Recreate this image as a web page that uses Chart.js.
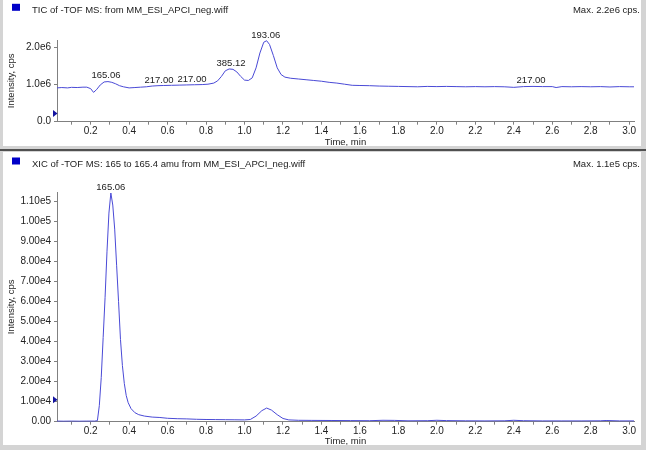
<!DOCTYPE html>
<html>
<head>
<meta charset="utf-8">
<script src="https://cdn.jsdelivr.net/npm/chart.js@4.4.1/dist/chart.umd.min.js"></script>
<style>
  html, body { margin: 0; padding: 0; }
  body { width: 646px; height: 450px; background: #d4d4d4; position: relative; overflow: hidden; }
  .panel { position: absolute; left: 3px; width: 638px; background: #fff; }
  .panel canvas { display: block; }
  #sep { position: absolute; left: 0; top: 149px; width: 646px; height: 2px; background: #505050; }
</style>
</head>
<body>
<div class="panel" style="top:0;height:146px"><canvas id="tic" width="638" height="146"></canvas></div>
<div id="sep"></div>
<div class="panel" style="top:152px;height:293px"><canvas id="xic" width="638" height="293"></canvas></div>
<script>
// --- data ---
var ticTime = [0.025, 0.05, 0.08, 0.10, 0.13, 0.16, 0.18, 0.20, 0.215, 0.23, 0.25, 0.27, 0.29, 0.31, 0.33, 0.35, 0.37, 0.40,
  0.43, 0.46, 0.49, 0.52, 0.55, 0.58, 0.62, 0.66, 0.70, 0.74, 0.78, 0.81, 0.84, 0.86, 0.88, 0.90, 0.92, 0.94, 0.96, 0.98,
  1.00, 1.02, 1.04, 1.06, 1.08, 1.10, 1.115, 1.13, 1.15, 1.17, 1.19, 1.21, 1.24, 1.28, 1.32, 1.36, 1.40, 1.44, 1.48, 1.52,
  1.56, 1.60, 1.65, 1.70, 1.75, 1.80, 1.85, 1.90, 1.95, 2.00, 2.05, 2.10, 2.15, 2.20, 2.25, 2.30, 2.35, 2.40, 2.45, 2.50,
  2.55, 2.60, 2.62, 2.65, 2.70, 2.75, 2.80, 2.85, 2.90, 2.95, 3.00, 3.025];
var ticIntensity = [0.91e6, 0.92e6, 0.91e6, 0.925e6, 0.92e6, 0.93e6, 0.93e6, 0.89e6, 0.79e6, 0.86e6, 0.99e6, 1.07e6, 1.08e6, 1.06e6, 1.02e6, 0.97e6, 0.94e6, 0.91e6,
  0.92e6, 0.93e6, 0.94e6, 0.96e6, 0.97e6, 0.975e6, 0.98e6, 0.985e6, 0.99e6, 0.995e6, 1.0e6, 1.01e6, 1.04e6, 1.10e6, 1.22e6, 1.37e6, 1.42e6, 1.41e6, 1.34e6, 1.22e6,
  1.12e6, 1.11e6, 1.18e6, 1.45e6, 1.85e6, 2.14e6, 2.18e6, 2.08e6, 1.78e6, 1.45e6, 1.27e6, 1.20e6, 1.17e6, 1.15e6, 1.13e6, 1.11e6, 1.09e6, 1.06e6, 1.04e6, 1.01e6,
  0.98e6, 0.975e6, 0.97e6, 0.96e6, 0.955e6, 0.95e6, 0.945e6, 0.94e6, 0.95e6, 0.945e6, 0.95e6, 0.945e6, 0.94e6, 0.945e6, 0.94e6, 0.945e6, 0.94e6, 0.925e6, 0.945e6, 0.95e6,
  0.945e6, 0.945e6, 0.92e6, 0.945e6, 0.94e6, 0.945e6, 0.94e6, 0.945e6, 0.935e6, 0.945e6, 0.94e6, 0.94e6];

var xicTime = [0.025, 0.06, 0.10, 0.14, 0.18, 0.22, 0.235, 0.245, 0.255, 0.265, 0.275, 0.285, 0.295, 0.305, 0.315, 0.325,
  0.335, 0.345, 0.355, 0.365, 0.375, 0.385, 0.395, 0.41, 0.43, 0.45, 0.48, 0.52, 0.56, 0.60, 0.65, 0.70, 0.75, 0.80, 0.85,
  0.90, 0.95, 1.00, 1.03, 1.06, 1.09, 1.115, 1.14, 1.17, 1.20, 1.23, 1.28, 1.35, 1.45, 1.55, 1.65, 1.72, 1.78, 1.85, 1.95,
  2.00, 2.05, 2.15, 2.25, 2.35, 2.40, 2.45, 2.55, 2.65, 2.75, 2.85, 2.88, 2.95, 3.025];
var xicIntensity = [300, 250, 300, 250, 300, 300, 500, 8000, 22000, 42000, 62000, 85000, 104000, 114000, 108000, 96000,
  78000, 60000, 41000, 28000, 19000, 13000, 9500, 6500, 4500, 3500, 2800, 2300, 2100, 1700, 1500, 1400, 1200, 1100, 1050,
  1000, 950, 900, 1100, 2800, 5500, 6800, 5800, 3500, 1600, 900, 700, 650, 600, 550, 500, 700, 650, 450, 500,
  700, 550, 450, 400, 450, 700, 500, 400, 400, 400, 450, 600, 400, 400];

var ticPeakTimes = [0.28, 0.555, 0.727, 0.93, 1.11, 2.49];
var ticPeakText = ['165.06', '217.00', '217.00', '385.12', '193.06', '217.00'];
var xicPeakTimes = [0.305];
var xicPeakText = ['165.06'];

var xTicks = [0.1, 0.2, 0.3, 0.4, 0.5, 0.6, 0.7, 0.8, 0.9, 1.0, 1.1, 1.2, 1.3, 1.4, 1.5, 1.6, 1.7, 1.8, 1.9, 2.0,
  2.1, 2.2, 2.3, 2.4, 2.5, 2.6, 2.7, 2.8, 2.9, 3.0];
var xTickLabels = ['', '0.2', '', '0.4', '', '0.6', '', '0.8', '', '1.0', '', '1.2', '', '1.4', '', '1.6', '', '1.8', '', '2.0',
  '', '2.2', '', '2.4', '', '2.6', '', '2.8', '', '3.0'];

var ticYTicks = [0, 1e6, 2e6];
var ticYLabels = ['0.0', '1.0e6', '2.0e6'];
var xicYTicks = [0, 1e4, 2e4, 3e4, 4e4, 5e4, 6e4, 7e4, 8e4, 9e4, 1e5, 1.1e5];
var xicYLabels = ['0.00', '1.00e4', '2.00e4', '3.00e4', '4.00e4', '5.00e4', '6.00e4', '7.00e4', '8.00e4', '9.00e4', '1.00e5', '1.10e5'];

var FONT = "'Liberation Sans', Arial, sans-serif";
var LINE = '#4a4ad6';
var TEXT = '#222';
var AXIS = '#808080';

function makePanel(id, cfg) {
  var overlay = {
    id: 'overlay',
    afterDatasetsDraw: function(chart) {
      var ctx = chart.ctx, xs = chart.scales.x, ys = chart.scales.y, area = chart.chartArea;
      ctx.save();
      // header line
      ctx.fillStyle = '#0000c8';
      ctx.fillRect(9, cfg.headY - 9, 8, 7);
      ctx.font = '9.5px ' + FONT;
      ctx.fillStyle = TEXT;
      ctx.textAlign = 'left';
      ctx.textBaseline = 'alphabetic';
      ctx.fillText(cfg.title, 29, cfg.headY);
      ctx.textAlign = 'right';
      ctx.fillText(cfg.maxText, chart.width - 1, cfg.headY);
      // peak labels sit just above the trace
      ctx.textAlign = 'center';
      ctx.textBaseline = 'bottom';
      cfg.peakTimes.forEach(function(t, i) {
        var best = 0;
        cfg.times.forEach(function(v, j) {
          if (Math.abs(v - t) < Math.abs(cfg.times[best] - t)) best = j;
        });
        ctx.fillText(cfg.peakText[i], xs.getPixelForValue(t), ys.getPixelForValue(cfg.values[best]) - 1);
      });
      // threshold marker on the y axis
      var my = ys.getPixelForValue(cfg.marker);
      ctx.fillStyle = '#1414a0';
      ctx.beginPath();
      ctx.moveTo(area.left - 4, my - 3.5);
      ctx.lineTo(area.left + 0.5, my);
      ctx.lineTo(area.left - 4, my + 3.5);
      ctx.closePath();
      ctx.fill();
      ctx.restore();
    }
  };

  return new Chart(document.getElementById(id), {
    type: 'line',
    data: {
      datasets: [{
        data: cfg.times.map(function(t, i) { return { x: t, y: cfg.values[i] }; }),
        borderColor: LINE,
        borderWidth: 1,
        pointRadius: 0,
        tension: 0,
        fill: false
      }]
    },
    options: {
      responsive: false,
      animation: false,
      layout: { padding: { top: 40, right: 7, left: 0, bottom: 0 } },
      plugins: { legend: { display: false }, tooltip: { enabled: false } },
      scales: {
        x: {
          type: 'linear',
          min: 0.025,
          max: 3.025,
          afterBuildTicks: function(s) { s.ticks = xTicks.map(function(v) { return { value: v }; }); },
          afterFit: function(s) { s.height = cfg.xHeight; },
          ticks: {
            autoSkip: false, maxRotation: 0, padding: 1,
            color: TEXT, font: { family: FONT, size: 10 },
            callback: function(v, i) { return xTickLabels[i]; }
          },
          grid: { drawOnChartArea: false, tickLength: 3, color: AXIS },
          border: { color: AXIS },
          title: {
            display: true, text: 'Time, min', color: TEXT,
            font: { family: FONT, size: 9.5, lineHeight: 0.8 }, padding: 0
          }
        },
        y: {
          min: 0,
          max: cfg.yMax,
          afterBuildTicks: function(s) { s.ticks = cfg.yTicks.map(function(v) { return { value: v }; }); },
          afterFit: function(s) { s.width = 54; },
          ticks: {
            autoSkip: false, padding: 3,
            color: TEXT, font: { family: FONT, size: 10 },
            callback: function(v, i) { return cfg.yLabels[i]; }
          },
          grid: { drawOnChartArea: false, tickLength: 3, color: AXIS },
          border: { color: AXIS },
          title: {
            display: true, text: 'Intensity, cps', color: TEXT,
            font: { family: FONT, size: 9.5 }, padding: { top: 3, bottom: 0 }
          }
        }
      }
    },
    plugins: [overlay]
  });
}

makePanel('tic', {
  times: ticTime, values: ticIntensity,
  peakTimes: ticPeakTimes, peakText: ticPeakText,
  yTicks: ticYTicks, yLabels: ticYLabels, yMax: 2.2e6, marker: 2.2e5, xHeight: 24.3,
  title: 'TIC of -TOF MS: from MM_ESI_APCI_neg.wiff', maxText: 'Max. 2.2e6 cps.', headY: 12.8
});

makePanel('xic', {
  times: xicTime, values: xicIntensity,
  peakTimes: xicPeakTimes, peakText: xicPeakText,
  yTicks: xicYTicks, yLabels: xicYLabels, yMax: 1.145e5, marker: 1.1e4, xHeight: 23.3,
  title: 'XIC of -TOF MS: 165 to 165.4 amu from MM_ESI_APCI_neg.wiff', maxText: 'Max. 1.1e5 cps.', headY: 14.5
});
</script>
</body>
</html>
